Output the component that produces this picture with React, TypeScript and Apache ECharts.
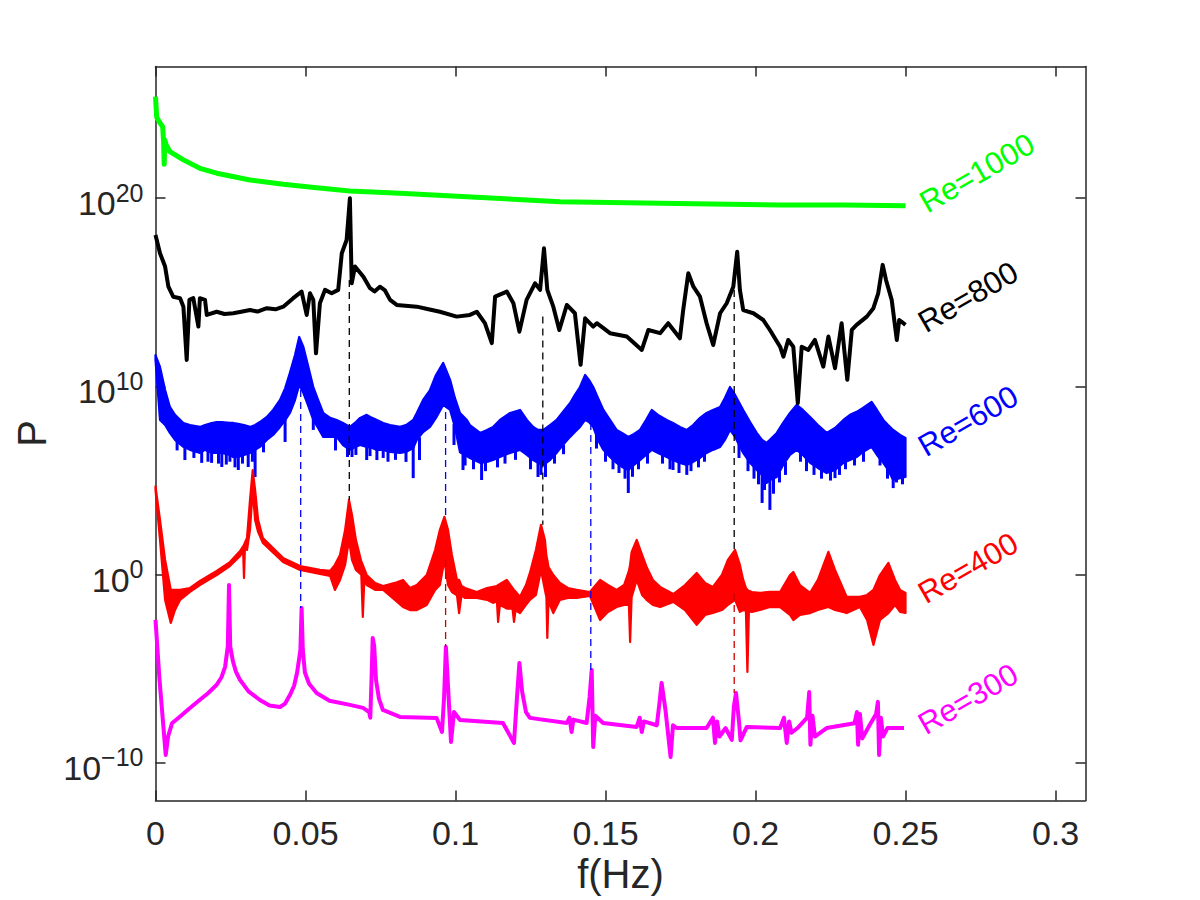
import React, { useEffect, useRef } from "react";
import * as echarts from "echarts";

// ---------------- data: frequency f (Hz), power given as log10(P) ----------------
const xTickValues = [0, 0.05, 0.1, 0.15, 0.2, 0.25, 0.3];
const yTickExponents = [-10, 0, 10, 20];
const seriesNames = ["Re=1000", "Re=800", "Re=600", "Re=400", "Re=300"];

// Re=1000 : [f, log10 P]
const re1000 = [
  [0.0, 25.4], [0.0004, 24.3], [0.0015, 24.0], [0.0024, 23.8], [0.0027, 23.0], [0.0029, 21.8],
  [0.0031, 23.1], [0.0035, 22.85], [0.0048, 22.48], [0.0093, 22.04], [0.0148, 21.59], [0.0204, 21.33],
  [0.0315, 20.97], [0.0426, 20.74], [0.0537, 20.56], [0.0648, 20.39], [0.0815, 20.26], [0.1037, 20.08],
  [0.1348, 19.82], [0.1682, 19.73], [0.2082, 19.64], [0.2293, 19.64], [0.25, 19.6],
];

// Re=800 : [f, log10 P]
const re800 = [
  [0.0, 18.05], [0.0015, 17.08], [0.0032, 16.37], [0.0043, 15.3], [0.0059, 14.77], [0.0082, 14.69],
  [0.0093, 14.24], [0.0104, 11.41], [0.0113, 14.6], [0.0126, 14.69], [0.0143, 13.18], [0.0148, 14.69],
  [0.0165, 14.6], [0.0171, 13.8], [0.0204, 13.97], [0.023, 13.85], [0.0259, 13.89], [0.029, 13.98],
  [0.0315, 14.06], [0.034, 13.98], [0.0371, 14.16], [0.04, 14.1], [0.0426, 14.24], [0.0459, 14.69],
  [0.0487, 15.04], [0.0504, 13.8], [0.0515, 14.95], [0.0526, 14.6], [0.0535, 11.76], [0.0548, 14.42],
  [0.0565, 15.13], [0.0587, 14.95], [0.0609, 15.13], [0.0621, 17.08], [0.0637, 17.78], [0.0648, 20.0],
  [0.0654, 15.48], [0.0665, 16.37], [0.0693, 15.83], [0.0703, 15.55], [0.0715, 15.22], [0.073, 15.05],
  [0.0748, 15.3], [0.0765, 15.1], [0.0782, 14.6], [0.0804, 14.33], [0.0871, 14.24], [0.091, 14.1],
  [0.0948, 13.97], [0.1004, 13.71], [0.1048, 13.8], [0.1071, 13.97], [0.1098, 13.36], [0.1121, 12.3],
  [0.1132, 14.77], [0.1171, 15.04], [0.1193, 14.42], [0.1213, 12.91], [0.1237, 14.6], [0.1265, 15.48],
  [0.1282, 15.13], [0.1295, 17.34], [0.1306, 15.13], [0.1326, 14.24], [0.1346, 13.0], [0.1371, 14.33],
  [0.1398, 13.89], [0.1417, 11.15], [0.1432, 13.62], [0.1459, 13.18], [0.1471, 13.36], [0.1515, 12.83],
  [0.1571, 12.65], [0.1621, 11.94], [0.1643, 13.0], [0.1682, 12.83], [0.1709, 13.36], [0.1748, 12.56],
  [0.1759, 14.06], [0.1776, 16.01], [0.1793, 15.3], [0.1815, 14.77], [0.1837, 13.36], [0.1859, 12.2],
  [0.1882, 13.89], [0.1904, 14.42], [0.1926, 15.3], [0.1939, 17.16], [0.1948, 15.13], [0.1959, 14.06],
  [0.1993, 13.89], [0.2026, 13.53], [0.2048, 13.0], [0.2082, 12.11], [0.2093, 11.58], [0.2109, 12.47],
  [0.2126, 12.11], [0.2141, 9.11], [0.2154, 12.11], [0.2176, 11.94], [0.2198, 12.47], [0.2226, 11.05],
  [0.2243, 12.65], [0.2265, 10.97], [0.2287, 13.36], [0.2306, 10.35], [0.2321, 13.0], [0.2337, 13.27],
  [0.2371, 13.71], [0.2393, 14.16], [0.2409, 14.95], [0.2424, 16.46], [0.2435, 15.66], [0.2454, 14.6],
  [0.2471, 12.47], [0.2479, 13.53], [0.2493, 13.36], [0.25, 13.27],
];

// Re=600 noisy band : [f, upper log10 P, lower log10 P]
const re600Band = [
  [0.0, 11.67, 11.41], [0.0015, 11.04, 8.22], [0.0032, 9.81, 7.95], [0.0048, 8.91, 7.53], [0.0065, 8.49, 7.16],
  [0.0093, 8.06, 6.79], [0.0115, 7.95, 6.63], [0.0148, 7.85, 6.47], [0.0165, 7.95, 6.63], [0.0187, 8.06, 6.47],
  [0.0204, 8.11, 6.47], [0.0221, 8.11, 6.47], [0.0248, 8.06, 6.36], [0.0259, 8.06, 6.25], [0.0276, 8.01, 6.25],
  [0.0295, 7.95, 6.36], [0.0315, 7.85, 6.47], [0.0332, 7.95, 6.63], [0.0348, 8.11, 6.79], [0.0371, 8.38, 7.16],
  [0.0392, 8.75, 7.42], [0.0415, 9.28, 7.85], [0.0432, 9.9, 8.2], [0.0448, 10.72, 8.59], [0.0465, 11.67, 9.28],
  [0.0479, 12.63, 10.08], [0.0493, 12.1, 9.65], [0.0508, 11.14, 9.02], [0.0526, 9.97, 8.22], [0.0542, 9.28, 7.79],
  [0.0559, 8.59, 7.32], [0.0582, 8.33, 7.32], [0.0604, 8.22, 7.32], [0.0625, 8.06, 6.89], [0.0648, 7.85, 6.63],
  [0.0668, 8.11, 6.79], [0.0682, 8.33, 6.89], [0.0704, 8.49, 6.79], [0.0722, 8.33, 6.73], [0.0738, 8.22, 6.63],
  [0.0759, 8.06, 6.63], [0.0782, 7.95, 6.52], [0.0815, 7.85, 6.47], [0.0835, 7.95, 6.52], [0.0859, 8.22, 6.73],
  [0.0871, 8.59, 7.16], [0.0892, 9.28, 7.58], [0.0915, 9.81, 7.85], [0.0935, 10.61, 8.33], [0.0959, 11.25, 9.02],
  [0.0982, 10.35, 8.75], [0.0998, 9.39, 7.85], [0.1015, 8.59, 6.5], [0.1038, 8.22, 6.3], [0.1048, 7.95, 6.2],
  [0.1082, 7.53, 5.94], [0.1105, 7.69, 5.99], [0.1125, 7.85, 6.09], [0.1148, 8.22, 6.25], [0.1182, 8.59, 6.47],
  [0.1215, 8.75, 6.63], [0.1238, 8.22, 6.36], [0.1259, 7.85, 6.09], [0.1275, 7.69, 5.94], [0.1293, 7.69, 5.83],
  [0.1315, 7.95, 6.09], [0.1337, 8.22, 6.47], [0.1358, 8.65, 6.89], [0.1382, 9.12, 7.32], [0.1398, 9.55, 7.58],
  [0.1415, 9.97, 7.85], [0.1432, 10.61, 8.22], [0.1445, 10.35, 8.11], [0.1459, 9.97, 7.85], [0.1475, 9.39, 7.16],
  [0.1493, 8.75, 6.63], [0.1515, 8.22, 6.25], [0.1537, 7.69, 5.94], [0.1555, 7.53, 5.72], [0.1576, 7.32, 5.56],
  [0.1595, 7.48, 5.83], [0.1615, 7.69, 6.09], [0.1635, 8.22, 6.36], [0.1654, 8.75, 6.63], [0.1675, 8.49, 6.47],
  [0.1704, 8.22, 6.25], [0.1725, 8.06, 6.09], [0.1748, 7.85, 5.94], [0.1771, 7.69, 5.83], [0.1792, 7.95, 5.99],
  [0.1815, 8.33, 6.2], [0.1837, 8.59, 6.47], [0.1858, 8.75, 6.63], [0.1882, 8.91, 6.79], [0.1898, 9.39, 7.16],
  [0.1915, 9.97, 7.69], [0.1932, 9.55, 7.32], [0.1959, 8.75, 6.47], [0.1982, 8.11, 5.94], [0.2004, 7.53, 5.56],
  [0.2022, 7.16, 5.3], [0.2037, 7.0, 4.87], [0.2048, 7.16, 5.03], [0.2071, 7.53, 5.19], [0.2092, 8.06, 5.83],
  [0.2115, 8.59, 6.36], [0.2137, 9.02, 6.63], [0.2158, 8.75, 6.36], [0.2182, 8.38, 5.94], [0.2208, 7.95, 5.67],
  [0.2237, 7.53, 5.4], [0.2265, 7.79, 5.56], [0.2293, 8.22, 5.94], [0.2315, 8.49, 6.09], [0.2337, 8.65, 6.25],
  [0.2358, 8.86, 6.52], [0.2387, 9.18, 6.79], [0.2405, 8.75, 6.36], [0.2426, 8.22, 5.94], [0.2442, 7.95, 5.56],
  [0.2459, 7.69, 5.03], [0.2482, 7.42, 5.13], [0.25, 7.26, 5.19],
];

// Re=600 downward spikes below the band : [f, from log10 P, to log10 P]
const re600Spikes = [
  [0.0072, 7.2, 6.6], [0.0098, 6.9, 6.09], [0.0128, 6.8, 6.2], [0.0154, 6.6, 5.94], [0.0175, 6.8, 6.0],
  [0.0187, 6.6, 5.94], [0.021, 6.6, 5.9], [0.0221, 6.6, 5.72], [0.0236, 6.6, 5.85], [0.0248, 6.5, 6.0],
  [0.0265, 6.4, 5.7], [0.0276, 6.4, 5.56], [0.029, 6.5, 5.9], [0.0309, 6.6, 5.72], [0.0323, 6.7, 6.0],
  [0.0332, 6.8, 5.19], [0.036, 7.0, 6.5], [0.0432, 8.3, 7.05], [0.0526, 8.3, 7.69], [0.06, 7.4, 6.6],
  [0.064, 6.8, 6.25], [0.0655, 6.8, 6.25], [0.0668, 6.9, 6.36], [0.0704, 6.9, 6.09], [0.0715, 6.9, 6.3],
  [0.0738, 6.8, 6.09], [0.0759, 6.8, 6.2], [0.0775, 6.7, 6.0], [0.08, 6.6, 6.1], [0.0835, 6.6, 5.99],
  [0.0859, 6.9, 5.13], [0.088, 7.3, 6.09], [0.0995, 8.0, 6.89], [0.1025, 6.5, 5.56], [0.1032, 6.5, 5.8],
  [0.106, 6.2, 5.6], [0.1087, 6.0, 5.03], [0.11, 6.1, 5.5], [0.114, 6.2, 5.7], [0.1165, 6.4, 5.9],
  [0.12, 6.6, 6.1], [0.125, 6.3, 5.6], [0.1275, 6.0, 5.19], [0.1285, 6.0, 5.3], [0.13, 6.0, 5.19],
  [0.133, 6.4, 5.9], [0.136, 6.9, 6.4], [0.147, 7.5, 6.7], [0.15, 6.7, 6.0], [0.1525, 6.3, 5.6],
  [0.1545, 6.0, 5.4], [0.1565, 5.8, 5.1], [0.1576, 5.7, 4.34], [0.159, 5.9, 5.2], [0.161, 6.2, 5.6],
  [0.164, 6.5, 5.9], [0.169, 6.6, 5.9], [0.1715, 6.3, 5.6], [0.1725, 6.2, 5.56], [0.1745, 6.1, 5.4],
  [0.1771, 6.0, 5.3], [0.1785, 6.1, 5.5], [0.181, 6.3, 5.7], [0.183, 6.6, 6.0], [0.1945, 7.0, 6.2],
  [0.1975, 6.2, 5.5], [0.1995, 5.8, 5.1], [0.201, 5.6, 4.8], [0.2022, 5.5, 3.81], [0.203, 5.3, 4.5],
  [0.2048, 5.2, 3.44], [0.206, 5.2, 4.3], [0.208, 5.5, 4.9], [0.21, 6.0, 5.3], [0.215, 6.6, 6.0],
  [0.217, 6.3, 5.5], [0.2195, 6.0, 5.3], [0.222, 5.8, 5.1], [0.225, 5.7, 5.0], [0.2265, 5.8, 5.13],
  [0.228, 5.9, 5.3], [0.23, 6.2, 5.6], [0.233, 6.4, 5.8], [0.236, 6.7, 6.0], [0.2415, 6.5, 5.8],
  [0.244, 5.9, 5.1], [0.2459, 5.3, 4.6], [0.247, 5.4, 4.9], [0.249, 5.4, 4.8],
];

// Re=400 noisy band : [f, upper log10 P, lower log10 P]
const re400Band = [
  [0.0, 4.69, 4.5], [0.0015, 2.91, 1.85], [0.0032, 0.78, -1.34], [0.0051, -0.81, -2.57], [0.0065, -0.81, -1.88],
  [0.0082, -0.81, -1.34], [0.0115, -0.71, -0.92], [0.0148, -0.33, -0.55], [0.0204, 0.2, -0.02],
  [0.0248, 0.67, 0.46], [0.0282, 1.26, 0.99], [0.0292, 1.5, 1.3], [0.0295, 1.58, -0.18], [0.0298, 1.7, 1.4],
  [0.0305, 1.95, 1.31], [0.0315, 3.97, 2.38], [0.0324, 5.56, 4.5], [0.0332, 4.5, 2.91], [0.0342, 2.91, 2.27],
  [0.0358, 1.95, 1.68], [0.0425, 0.89, 0.67], [0.0482, 0.46, 0.25], [0.0548, 0.25, 0.04], [0.0582, 0.2, -0.07],
  [0.0598, 0.52, -0.81], [0.0615, 1.05, -0.28], [0.0632, 2.38, 0.52], [0.0645, 3.97, 1.85], [0.0655, 3.17, 0.78],
  [0.0668, 1.85, 0.25], [0.0686, 0.7, 0.0], [0.0691, 0.52, -2.25], [0.0696, 0.3, -0.3], [0.0704, -0.02, -0.55],
  [0.0732, -0.44, -0.81], [0.0759, -0.6, -0.81], [0.0798, -0.44, -1.34], [0.0825, -0.28, -1.72],
  [0.0848, -0.71, -1.88], [0.0871, -0.55, -1.88], [0.0904, -0.02, -1.61], [0.0932, 1.31, -0.81],
  [0.0948, 2.38, -0.55], [0.0963, 3.07, 0.78], [0.0975, 2.38, -0.55], [0.0988, 1.05, -0.92],
  [0.1005, -0.28, -1.1], [0.1012, -0.28, -2.04], [0.102, -0.6, -1.1], [0.1032, -0.71, -1.24],
  [0.1071, -0.92, -1.24], [0.1105, -0.71, -1.34], [0.1125, -0.65, -1.5], [0.1138, -0.6, -1.4],
  [0.1142, -0.55, -2.51], [0.1148, -0.5, -1.6], [0.1171, -0.28, -1.8], [0.119, -0.7, -1.8],
  [0.1195, -0.81, -2.51], [0.12, -0.9, -1.9], [0.1215, -1.18, -2.04], [0.1235, -0.55, -1.61],
  [0.1248, 0.09, -1.34], [0.1268, 1.31, -1.08], [0.1285, 2.65, 0.25], [0.1298, 1.85, -0.81],
  [0.1303, 1.0, -1.2], [0.1306, 0.78, -3.36], [0.131, 0.4, -1.4], [0.1326, -0.02, -2.04],
  [0.1348, -0.44, -1.34], [0.1375, -0.71, -1.24], [0.1404, -0.81, -1.24], [0.1448, -0.92, -1.13],
  [0.1482, -0.28, -2.41], [0.1508, -0.55, -1.98], [0.1537, -0.81, -1.72], [0.1562, -0.55, -1.61],
  [0.1578, 0.2, -1.6], [0.1582, 0.52, -3.58], [0.1587, 1.2, -1.2], [0.1604, 1.85, -0.28], [0.1622, 1.05, -1.08],
  [0.1637, 0.41, -1.34], [0.1658, -0.28, -1.61], [0.1682, -0.65, -1.72], [0.1726, -1.03, -1.45],
  [0.1765, -0.55, -1.88], [0.1804, 0.09, -2.67], [0.1832, -0.44, -2.14], [0.1858, -0.65, -2.04],
  [0.1888, -0.02, -1.88], [0.1908, 0.78, -1.61], [0.1932, 1.31, -1.34], [0.1948, 0.52, -1.98],
  [0.1959, -0.28, -1.88], [0.1968, -0.7, -1.9], [0.1973, -0.81, -5.17], [0.1978, -0.85, -1.95],
  [0.1988, -0.92, -1.98], [0.2015, -0.97, -1.88], [0.2048, -0.92, -1.72], [0.2082, -0.92, -1.72],
  [0.2115, -0.02, -2.14], [0.2126, 0.14, -2.41], [0.2148, -0.55, -2.14], [0.2182, -0.97, -2.04],
  [0.2208, -0.28, -1.88], [0.2243, 1.21, -1.72], [0.2265, 0.25, -1.88], [0.2304, -1.18, -2.04],
  [0.2348, -1.18, -1.72], [0.2372, -1.08, -2.41], [0.2393, -0.81, -3.73], [0.2415, -0.02, -2.41],
  [0.2443, 0.62, -2.04], [0.2465, -0.28, -1.61], [0.2482, -0.81, -1.98], [0.25, -0.97, -2.04],
];

// Re=300 : [f, log10 P]
const re300 = [
  [0.0, -2.4], [0.0013, -5.5], [0.0034, -9.58], [0.0042, -8.6], [0.0055, -7.9], [0.0082, -7.54],
  [0.011, -7.15], [0.0148, -6.65], [0.0175, -6.3], [0.0204, -5.85], [0.022, -5.45], [0.0232, -4.9],
  [0.0241, -3.8], [0.0245, -0.55], [0.0249, -3.8], [0.0258, -4.6], [0.0268, -5.15], [0.0282, -5.6],
  [0.031, -6.2], [0.0348, -6.66], [0.038, -6.95], [0.0415, -7.03], [0.0432, -6.85], [0.0448, -6.4],
  [0.0462, -5.9], [0.0472, -5.2], [0.0483, -4.0], [0.0487, -1.77], [0.0491, -4.0], [0.0498, -5.2],
  [0.0512, -5.8], [0.0537, -6.29], [0.058, -6.7], [0.0648, -6.92], [0.0692, -7.08], [0.0712, -7.3],
  [0.0716, -7.6], [0.072, -5.6], [0.0724, -3.36], [0.0729, -3.8], [0.0735, -5.6], [0.0745, -6.6],
  [0.0758, -7.19], [0.0815, -7.56], [0.0937, -7.61], [0.0955, -8.36], [0.0962, -6.5], [0.0968, -3.84],
  [0.0974, -5.6], [0.0985, -8.89], [0.0995, -7.3], [0.1015, -7.72], [0.1158, -7.88], [0.1195, -8.94],
  [0.1205, -6.5], [0.1213, -4.69], [0.1222, -6.2], [0.1235, -7.3], [0.1248, -7.61], [0.1371, -7.88],
  [0.138, -7.6], [0.1387, -8.36], [0.1393, -7.7], [0.1437, -7.88], [0.1447, -6.5], [0.1454, -5.06],
  [0.1459, -9.16], [0.1466, -7.5], [0.1492, -7.88], [0.1604, -8.09], [0.1614, -7.6], [0.1621, -8.36],
  [0.1628, -7.8], [0.1671, -8.0], [0.168, -6.8], [0.1687, -5.75], [0.17, -7.2], [0.1717, -9.69],
  [0.1725, -8.0], [0.1737, -8.15], [0.1837, -8.15], [0.1858, -7.6], [0.1865, -8.94], [0.1872, -7.8],
  [0.188, -8.6], [0.19, -8.15], [0.1921, -8.78], [0.1928, -7.0], [0.1935, -6.29], [0.1945, -7.8],
  [0.195, -8.8], [0.1971, -8.09], [0.2082, -8.15], [0.2095, -7.6], [0.2104, -8.94], [0.2112, -7.8],
  [0.212, -8.4], [0.214, -8.15], [0.2172, -7.6], [0.2179, -6.24], [0.2183, -9.04], [0.219, -7.5],
  [0.2198, -8.6], [0.2237, -8.15], [0.233, -7.9], [0.2338, -7.3], [0.2342, -9.04], [0.2348, -7.4],
  [0.2356, -8.7], [0.238, -8.0], [0.2402, -7.4], [0.2408, -6.76], [0.2412, -9.58], [0.2418, -7.6],
  [0.2425, -8.6], [0.244, -8.15], [0.2495, -8.15],
];

// dashed guide lines : [f, upper log10 P, lower log10 P]
const blackGuides = [[0.0646, 15.66, 3.97], [0.1291, 13.71, 2.65], [0.1929, 15.13, 1.31]];
const blueGuides = [[0.0484, 9.81, -1.77], [0.0967, 9.28, 3.07], [0.1451, 8.06, -5.06]];
const redGuides = [[0.0967, 0.78, -3.84], [0.1929, -0.97, -6.29]];

// ---------------- styling ----------------
const FONT = '"Liberation Sans", Arial, Helvetica, sans-serif';
const AXIS = "#262626";
const COLORS = ["#00ff00", "#000000", "#0000ff", "#ff0000", "#ff00ff"];
const LABEL_POS = [
  [977, 173],
  [968, 297],
  [968, 421],
  [968, 568],
  [968, 699],
];

const P = (e: number) => Math.pow(10, e);
const toPts = (arr: number[][]) => arr.map(([f, e]) => [f, P(e)]);

function bandSeries(name: string, band: number[][], color: string) {
  return {
    type: "custom",
    name,
    z: 2,
    silent: true,
    data: band.map(([f, hi, lo]) => [f, P(hi), P(lo)]),
    encode: { x: 0, y: [1, 2] },
    renderItem: (params: any, api: any) => {
      if (params.dataIndex !== 0) return null;
      const upper = band.map(([f, hi]) => api.coord([f, P(hi)]));
      const lower = band.map(([f, , lo]) => api.coord([f, P(lo)])).reverse();
      return {
        type: "polygon",
        shape: { points: upper.concat(lower) },
        style: { fill: color, stroke: color, lineWidth: 2.2, lineJoin: "round" },
      };
    },
  };
}

function spikeSeries(spikes: number[][], color: string) {
  return {
    type: "custom",
    z: 2,
    silent: true,
    data: spikes.map(([f, a, b]) => [f, P(a), P(b)]),
    encode: { x: 0, y: [1, 2] },
    renderItem: (params: any, api: any) => {
      const p1 = api.coord([api.value(0), api.value(1)]);
      const p2 = api.coord([api.value(0), api.value(2)]);
      return {
        type: "line",
        shape: { x1: p1[0], y1: p1[1], x2: p2[0], y2: p2[1] },
        style: { stroke: color, lineWidth: 3 },
      };
    },
  };
}

function lineSeries(name: string, data: number[][], color: string, width: number) {
  return {
    type: "line",
    name,
    z: 3,
    data: toPts(data),
    symbol: "none",
    lineStyle: { color, width, join: "round" },
    silent: true,
  };
}

function guideSeries(guides: number[][], color: string) {
  return guides.map(([f, a, b]) => ({
    type: "line",
    z: 4,
    data: [[f, P(a)], [f, P(b)]],
    symbol: "none",
    lineStyle: { color, width: 1.3, type: [7, 5] },
    silent: true,
  }));
}

export default function App() {
  const ref = useRef<HTMLDivElement>(null);

  useEffect(() => {
    if (!ref.current) return;
    const chart = echarts.init(ref.current, null, { renderer: "svg" });

    const yTicks = yTickExponents.map(P);
    const lineCfg = { show: true, onZero: false, lineStyle: { color: AXIS, width: 1.5 } };
    const tickStyle = { color: AXIS, width: 1.5 };

    const option: any = {
      animation: false,
      backgroundColor: "#ffffff",
      grid: { left: 155.5, right: 114.5, top: 66.5, bottom: 99.5, containLabel: false },
      xAxis: [
        {
          type: "value",
          position: "bottom",
          min: 0,
          max: 0.31,
          axisLine: lineCfg,
          axisTick: { show: true, inside: true, length: 10, lineStyle: tickStyle, customValues: xTickValues },
          axisLabel: {
            customValues: xTickValues,
            formatter: (v: number) => String(v),
            fontSize: 34,
            fontFamily: FONT,
            color: AXIS,
            margin: 15,
          },
          splitLine: { show: false },
          name: "f(Hz)",
          nameLocation: "middle",
          nameGap: 52,
          nameTextStyle: { fontSize: 40, fontFamily: FONT, color: AXIS },
        },
        {
          type: "value",
          position: "top",
          min: 0,
          max: 0.31,
          axisLine: lineCfg,
          axisTick: { show: true, inside: true, length: 10, lineStyle: tickStyle, customValues: xTickValues },
          axisLabel: { show: false },
          splitLine: { show: false },
        },
      ],
      yAxis: [
        {
          type: "log",
          logBase: 10,
          position: "left",
          min: P(-12),
          max: P(27),
          axisLine: lineCfg,
          axisTick: { show: true, inside: true, length: 10, lineStyle: tickStyle, customValues: yTicks },
          axisLabel: {
            customValues: yTicks,
            margin: 12,
            padding: [10, 0, 0, 0],
            formatter: (v: number) => {
              const n = Math.round(Math.log10(v));
              const s = n < 0 ? "\u2212" + String(-n) : String(n);
              return "{b|10}{s|" + s + "}";
            },
            rich: {
              b: { fontSize: 34, lineHeight: 46, fontFamily: FONT, color: AXIS },
              s: { fontSize: 25, lineHeight: 24, verticalAlign: "top", fontFamily: FONT, color: AXIS },
            },
          },
          splitLine: { show: false },
          name: "P",
          nameLocation: "middle",
          nameGap: 100,
          nameTextStyle: { fontSize: 40, fontFamily: FONT, color: AXIS },
        },
        {
          type: "log",
          logBase: 10,
          position: "right",
          min: P(-12),
          max: P(27),
          axisLine: lineCfg,
          axisTick: { show: true, inside: true, length: 10, lineStyle: tickStyle, customValues: yTicks },
          axisLabel: { show: false },
          splitLine: { show: false },
        },
      ],
      series: [
        bandSeries(seriesNames[2], re600Band, COLORS[2]),
        spikeSeries(re600Spikes, COLORS[2]),
        bandSeries(seriesNames[3], re400Band, COLORS[3]),
        lineSeries(seriesNames[0], re1000, COLORS[0], 5),
        lineSeries(seriesNames[1], re800, COLORS[1], 4),
        lineSeries(seriesNames[4], re300, COLORS[4], 4),
        ...guideSeries(blackGuides, "#000000"),
        ...guideSeries(blueGuides, "#0000ff"),
        ...guideSeries(redGuides, "#cc0000"),
      ],
      graphic: seriesNames.map((t, i) => ({
        type: "text",
        x: LABEL_POS[i][0],
        y: LABEL_POS[i][1],
        rotation: (30 * Math.PI) / 180,
        z: 10,
        style: {
          text: t,
          fill: COLORS[i],
          font: "31px " + FONT,
          align: "center",
          verticalAlign: "middle",
        },
      })),
    };

    chart.setOption(option);
    return () => chart.dispose();
  }, []);

  return (
    <div
      ref={ref}
      style={{ position: "fixed", left: 0, top: 0, width: 1200, height: 900, background: "#ffffff" }}
    />
  );
}
